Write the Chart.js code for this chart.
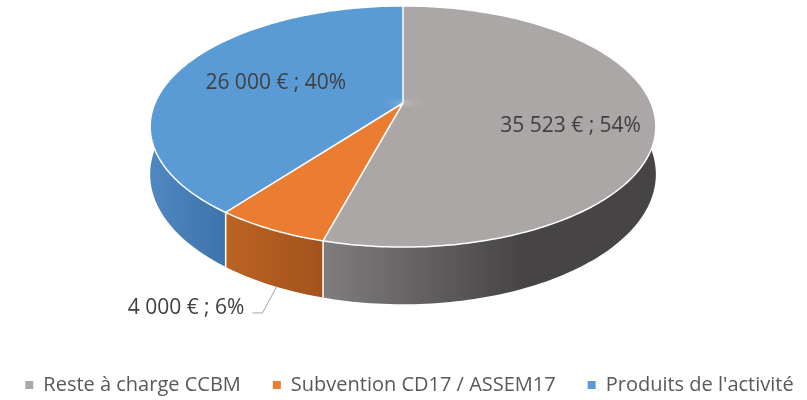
<!DOCTYPE html>
<html>
<head>
<meta charset="utf-8">
<script src="https://cdn.jsdelivr.net/npm/chart.js@4.4.0/dist/chart.umd.min.js"></script>
<style>
html, body { margin: 0; padding: 0; background: #fff; }
#wrap { width: 807px; height: 400px; }
</style>
</head>
<body>
<div id="wrap"><canvas id="budgetPie" width="807" height="400"></canvas></div>
<script>
var categories = ['Reste à charge CCBM', 'Subvention CD17 / ASSEM17', "Produits de l'activité"];
var amounts = [35523, 4000, 26000];
var topColors = ['#aba7a6', '#ea7d31', '#5b9bd5'];
var sideColors = [['#7f7d7d', '#464444'], ['#bc6323', '#a2531c'], ['#5088c1', '#3e72aa']];
var labelSpots = [0.67, 'outside', 0.56]; // fraction of radius, or outside with a leader
var labelNudge = [13, 0, 0];

// fake 3D: perspective tilt of the pie
var tilt = { cx: 403, cy: 103, ax: 248, by: 116, q: 0.195, depth: 46 };
var fontFamily = '"Open Sans", "Noto Sans", sans-serif';

function proj(ang, f) {
    if (f == null) f = 1;
    var x = Math.cos(ang) * f, y = Math.sin(ang) * f;
    var d = 1 - tilt.q * y;
    return { x: tilt.cx + tilt.ax * x / d, y: tilt.cy + tilt.by * y / d, d: d };
}

function euro(v) {
    return String(v).replace(/\B(?=(\d{3})+(?!\d))/g, '\u00a0') + '\u00a0€';
}

function drawSides(chart) {
    var ctx = chart.ctx;
    var arcs = chart.getDatasetMeta(0).data;
    arcs.forEach(function (arc, i) {
        var a0 = Math.max(arc.startAngle, 0), a1 = Math.min(arc.endAngle, Math.PI);
        if (a1 <= a0) return;
        var n = Math.max(2, Math.ceil((a1 - a0) / 0.02));
        var top = [], bot = [];
        for (var k = 0; k <= n; k++) {
            var p = proj(a0 + (a1 - a0) * k / n);
            top.push(p);
            bot.push({ x: p.x, y: p.y + tilt.depth / p.d });
        }
        var xs = top.map(function (p) { return p.x; });
        var g = ctx.createLinearGradient(Math.min.apply(null, xs), 0, Math.max.apply(null, xs), 0);
        g.addColorStop(0, sideColors[i][0]);
        g.addColorStop(i === 0 ? 0.6 : 1, sideColors[i][1]);
        g.addColorStop(1, sideColors[i][1]);
        ctx.beginPath();
        top.forEach(function (p, k) { k ? ctx.lineTo(p.x, p.y) : ctx.moveTo(p.x, p.y); });
        for (var k = bot.length - 1; k >= 0; k--) ctx.lineTo(bot[k].x, bot[k].y);
        ctx.closePath();
        ctx.fillStyle = g;
        ctx.fill();
    });
}

function drawTop(chart) {
    var ctx = chart.ctx;
    var arcs = chart.getDatasetMeta(0).data;
    var e = arcs[0], cx = tilt.cx, r = e.outerRadius;
    var steps = 72, eps = 0.03;
    for (var w = 0; w < steps; w++) {
        var a1 = -Math.PI / 2 + w * 2 * Math.PI / steps, a2 = a1 + 2 * Math.PI / steps;
        var p1 = proj(a1), p2 = proj(a2);
        var x1 = Math.cos(a1), y1 = Math.sin(a1), x2 = Math.cos(a2), y2 = Math.sin(a2);
        var vx1 = p1.x - cx, vy1 = p1.y - tilt.cy, vx2 = p2.x - cx, vy2 = p2.y - tilt.cy;
        var det = x1 * y2 - x2 * y1;
        var m11 = (vx1 * y2 - vx2 * y1) / det, m12 = (vx2 * x1 - vx1 * x2) / det;
        var m21 = (vy1 * y2 - vy2 * y1) / det, m22 = (vy2 * x1 - vy1 * x2) / det;
        var lin = function (a, s) {
            return [cx + s * (m11 * Math.cos(a) + m12 * Math.sin(a)), tilt.cy + s * (m21 * Math.cos(a) + m22 * Math.sin(a))];
        };
        var q1 = lin(a1 - eps, 1.3), qm = lin((a1 + a2) / 2, 1.3), q2 = lin(a2 + eps, 1.3);
        ctx.save();
        ctx.beginPath();
        ctx.moveTo(cx, tilt.cy);
        ctx.lineTo(q1[0], q1[1]);
        ctx.lineTo(qm[0], qm[1]);
        ctx.lineTo(q2[0], q2[1]);
        ctx.closePath();
        ctx.clip();
        var a = m11 / r, b = m21 / r, c = m12 / r, d = m22 / r;
        ctx.setTransform(a, b, c, d, cx - a * e.x - c * e.y, tilt.cy - b * e.x - d * e.y);
        arcs.forEach(function (arc) { arc.draw(ctx); });
        ctx.restore();
    }

    // white edges
    ctx.save();
    ctx.strokeStyle = '#ffffff';
    ctx.lineWidth = 1.5;
    ctx.beginPath();
    for (var k = 0; k <= 360; k++) {
        var p = proj(k * Math.PI / 180);
        k ? ctx.lineTo(p.x, p.y) : ctx.moveTo(p.x, p.y);
    }
    ctx.closePath();
    arcs.forEach(function (arc) {
        var p = proj(arc.startAngle);
        ctx.moveTo(cx, tilt.cy);
        ctx.lineTo(p.x, p.y);
        var s = ((arc.startAngle % (2 * Math.PI)) + 2 * Math.PI) % (2 * Math.PI);
        if (s > 0.05 && s < Math.PI - 0.05) {
            ctx.moveTo(p.x, p.y);
            ctx.lineTo(p.x, p.y + tilt.depth / p.d);
        }
    });
    ctx.stroke();
    ctx.restore();
}

var pie3d = {
    id: 'pie3d',
    afterInit: function (chart) {
        // keep the legend on one row like the original
        var lg = chart.legend, fit = lg.fit, draw = lg.draw;
        lg.fit = function () {
            var mw = this.maxWidth;
            this.maxWidth = mw + 200;
            fit.call(this);
            this.maxWidth = mw;
            this.width = mw;
        };
        lg.draw = function () {
            this.left -= 200;
            this.right += 200;
            draw.call(this);
            this.left += 200;
            this.right -= 200;
        };
    },
    beforeDatasetsDraw: function (chart) {
        drawSides(chart);
        drawTop(chart);
        return false;
    },
    afterDraw: function (chart) {
        var ctx = chart.ctx;
        var arcs = chart.getDatasetMeta(0).data;
        var total = amounts.reduce(function (s, v) { return s + v; }, 0);
        ctx.save();
        ctx.font = '21px ' + fontFamily;
        ctx.fillStyle = '#404040';
        ctx.textBaseline = 'middle';
        arcs.forEach(function (arc, i) {
            var txt = euro(amounts[i]) + ' ; ' + Math.round(amounts[i] / total * 100) + '%';
            var mid = (arc.startAngle + arc.endAngle) / 2;
            if (labelSpots[i] === 'outside') {
                var p = proj(mid);
                var bx = p.x + 6, by = p.y + tilt.depth / p.d + 2;
                ctx.strokeStyle = '#a6a6a6';
                ctx.lineWidth = 1;
                ctx.beginPath();
                ctx.moveTo(bx, by);
                ctx.lineTo(bx - 14, by + 26);
                ctx.lineTo(bx - 24, by + 26);
                ctx.stroke();
                ctx.textAlign = 'right';
                ctx.fillText(txt, bx - 32, by + 21);
            } else {
                var q = proj(mid, labelSpots[i]);
                ctx.textAlign = 'center';
                ctx.fillText(txt, q.x, q.y + labelNudge[i]);
            }
        });
        ctx.restore();
    }
};

var budgetChart = new Chart(document.getElementById('budgetPie'), {
    type: 'pie',
    data: {
        labels: categories,
        datasets: [{
            data: amounts,
            backgroundColor: topColors,
            borderColor: topColors,
            borderWidth: 0
        }]
    },
    options: {
        responsive: false,
        animation: false,
        events: [],
        layout: { padding: { left: 12, bottom: -5 } },
        plugins: {
            tooltip: { enabled: false },
            legend: {
                position: 'bottom',
                labels: {
                    boxWidth: 8,
                    boxHeight: 8,
                    padding: 32,
                    color: '#595959',
                    font: { family: fontFamily, size: 20 }
                }
            }
        }
    },
    plugins: [pie3d]
});
</script>
</body>
</html>
